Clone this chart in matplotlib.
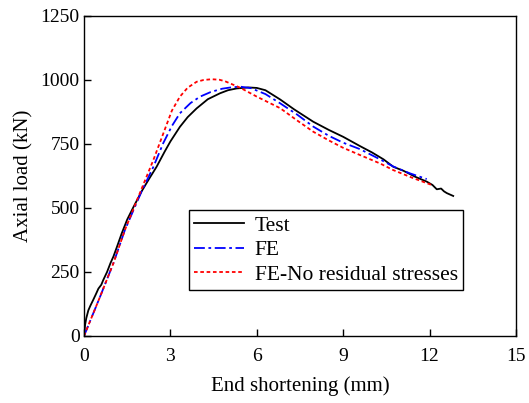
import matplotlib
matplotlib.use('Agg')
import matplotlib.pyplot as plt

plt.rcParams['font.family'] = ['Liberation Serif', 'DejaVu Serif']
plt.rcParams['mathtext.fontset'] = 'stix'

# Test (measured) curve
test_x = [0, 0.04, 0.08, 0.15, 0.22, 0.32, 0.42, 0.5, 0.6, 0.67, 0.8, 0.92, 1.02,
          1.15, 1.31, 1.5, 1.7, 2.0, 2.25, 2.52, 2.8, 3.0, 3.33, 3.6, 3.91, 4.3,
          4.72, 5.0, 5.3, 5.7, 6.0, 6.3, 6.81, 7.3, 7.96, 8.5, 9.0, 9.58, 10.0,
          10.4, 10.74, 11.1, 11.5, 11.9, 12.1, 12.25, 12.4, 12.5, 12.6, 12.7, 12.82]
test_y = [0, 45, 70, 100, 118, 141, 165, 185, 200, 219, 250, 285, 310,
          350, 401, 455, 500, 565, 612, 661, 720, 760, 817, 855, 889, 925,
          948, 960, 967, 971, 969, 960, 924, 885, 837, 805, 778, 742, 717,
          690, 661, 645, 622, 603, 590, 573, 576, 565, 558, 553, 547]

# FE model
fe_x = [0, 0.56, 1.02, 1.42, 2.0, 2.41, 2.75, 3.05, 3.33, 3.7, 4.03, 4.4, 4.8,
        5.1, 5.42, 5.8, 6.3, 6.81, 7.4, 7.96, 8.5, 9.0, 9.58, 10.28, 10.74,
        11.3, 11.9]
fe_y = [0, 154, 284, 414, 565, 661, 753, 820, 870, 910, 935, 953, 966,
        971, 974, 968, 945, 909, 865, 818, 782, 755, 730, 690, 662,
        636, 613]

# FE without residual stresses
fenr_x = [0, 0.56, 1.02, 1.42, 2.0, 2.41, 2.75, 3.05, 3.33, 3.6, 3.91, 4.15,
          4.43, 4.7, 4.9, 5.42, 6.0, 6.81, 7.4, 7.96, 8.5, 9.0, 9.58, 10.28,
          10.74, 11.4, 12.07]
fenr_y = [0, 154, 284, 414, 575, 688, 790, 880, 935, 970, 993, 1000,
          1003, 1001, 995, 970, 935, 890, 842, 798, 764, 735, 707, 674,
          648, 618, 590]

fig = plt.figure(figsize=(5.29, 4.03), dpi=100)
ax = fig.add_axes([0.1588, 0.1663, 0.8166, 0.794])

ax.plot(test_x, test_y, color='black', lw=1.3, label='Test')
ax.plot(fe_x, fe_y, color='blue', lw=1.3, dashes=(6, 2, 1.5, 2), label='FE')
ax.plot(fenr_x, fenr_y, color='red', lw=1.3, dashes=(2, 1.5),
        label='FE-No residual stresses')

ax.set_xlim(0, 15)
ax.set_ylim(0, 1250)
ax.set_xticks([0, 3, 6, 9, 12, 15])
ax.set_yticks([0, 250, 500, 750, 1000, 1250])
ax.tick_params(direction='in', length=5, width=1, labelsize=14,
               top=False, right=False, pad=3)
ax.tick_params(axis='x', pad=9)
for sp in ax.spines.values():
    sp.set_linewidth(1.0)

ax.set_xlabel('End shortening (mm)', fontsize=15, labelpad=8)
ax.set_ylabel('Axial load (kN)', fontsize=15, labelpad=5)

leg = ax.legend(loc='lower left', bbox_to_anchor=(0.243, 0.144),
                borderaxespad=0, fancybox=False, framealpha=1,
                edgecolor='black', fontsize=15.5, handlelength=2.3,
                handletextpad=0.5, labelspacing=0.2, borderpad=0.25)
leg.get_frame().set_linewidth(1.0)

fig.savefig('out.png', dpi=100)
